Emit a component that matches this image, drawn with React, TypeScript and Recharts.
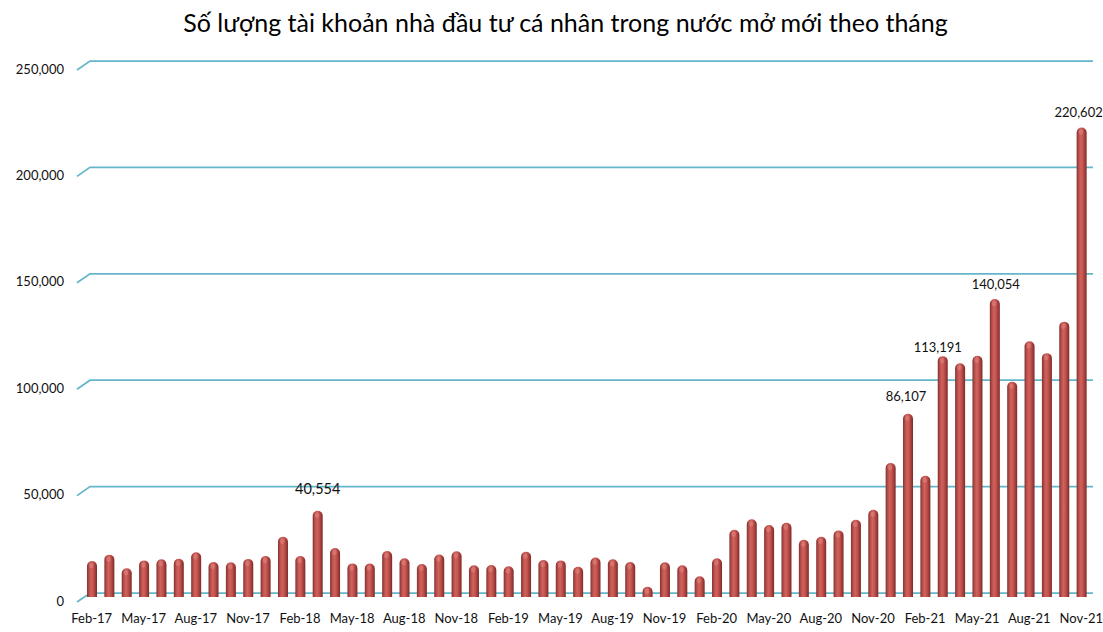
import React from 'react';
import { BarChart, Bar, XAxis, YAxis, CartesianGrid, LabelList } from 'recharts';

// months Feb-17 .. Nov-21
const months = [
  'Feb-17', 'Mar-17', 'Apr-17', 'May-17', 'Jun-17', 'Jul-17', 'Aug-17', 'Sep-17', 'Oct-17', 'Nov-17', 'Dec-17',
  'Jan-18', 'Feb-18', 'Mar-18', 'Apr-18', 'May-18', 'Jun-18', 'Jul-18', 'Aug-18', 'Sep-18', 'Oct-18', 'Nov-18', 'Dec-18',
  'Jan-19', 'Feb-19', 'Mar-19', 'Apr-19', 'May-19', 'Jun-19', 'Jul-19', 'Aug-19', 'Sep-19', 'Oct-19', 'Nov-19', 'Dec-19',
  'Jan-20', 'Feb-20', 'Mar-20', 'Apr-20', 'May-20', 'Jun-20', 'Jul-20', 'Aug-20', 'Sep-20', 'Oct-20', 'Nov-20', 'Dec-20',
  'Jan-21', 'Feb-21', 'Mar-21', 'Apr-21', 'May-21', 'Jun-21', 'Jul-21', 'Aug-21', 'Sep-21', 'Oct-21', 'Nov-21',
];

// new domestic individual accounts per month
const accounts = [
  16900, 19900, 13500, 17200, 17700, 18000, 21000, 16400, 16300, 17900, 19300,
  28300, 19300, 40554, 23000, 15800, 15700, 21600, 18200, 15500, 20000, 21500, 14900,
  15000, 14400, 21300, 17400, 17200, 14200, 18600, 17700, 16400, 4800, 16300, 14900,
  9700, 18200, 31600, 36500, 33800, 34900, 26900, 28300, 31300, 36300, 41000, 63000,
  86107, 57000, 113191, 109800, 113400, 140054, 101100, 120200, 114600, 129400, 220602,
];

const yTicks = [0, 50000, 100000, 150000, 200000, 250000];

const labelledMonths = ['Mar-18', 'Jan-21', 'Mar-21', 'Jun-21', 'Nov-21'];

// label nudges (styling only)
const labelStyle: Record<string, { dx: number; dy: number; size: number }> = {
  'Mar-18': { dx: 0, dy: -17, size: 14.5 },
  'Jan-21': { dx: -2, dy: -13, size: 13 },
  'Mar-21': { dx: -5, dy: -4, size: 13 },
  'Jun-21': { dx: 1, dy: -10, size: 13 },
  'Nov-21': { dx: -3, dy: -11, size: 13 },
};

const data = months.map((m, i) => ({ month: m, value: accounts[i] }));

const FONT = 'Lato, "Open Sans", sans-serif';
const GRID = '#64b6ca';
const DROP = 4; // bars sit slightly in front of the back wall

const Cylinder = (props: any) => {
  const { x, y, width, height } = props;
  if (!height || height <= 0) return null;
  const r = width / 2;
  const top = y + DROP;
  const bottom = y + height + DROP;
  const d = `M${x},${bottom} L${x},${top + r} A${r},${r} 0 0 1 ${x + width},${top + r} L${x + width},${bottom} Z`;
  return (
    <g>
      <path d={d} fill="url(#cyl)" />
      <ellipse cx={x + r * 0.85} cy={top + r * 0.9} rx={r * 0.45} ry={r * 0.55} fill="#e48a86" opacity={0.5} />
    </g>
  );
};

const YTick = (props: any) => {
  const { x, y, payload } = props;
  return (
    <text x={x - 11} y={y + 8} dy="0.35em" textAnchor="end" fontSize={13} fontFamily={FONT} fill="#111">
      {Number(payload.value).toLocaleString('en-US')}
    </text>
  );
};

const XTick = (props: any) => {
  const { x, y, payload } = props;
  return (
    <text x={x} y={y + 22} textAnchor="middle" fontSize={13} fontFamily={FONT} fill="#111">
      {payload.value}
    </text>
  );
};

const renderLabel = (props: any) => {
  const { x, y, width, index, value } = props;
  const m = months[index];
  if (!labelledMonths.includes(m)) return null;
  const s = labelStyle[m];
  return (
    <text
      key={`lbl-${index}`}
      x={x + width / 2 + s.dx}
      y={y + DROP + s.dy}
      textAnchor="middle"
      fontSize={s.size}
      fontFamily={FONT}
      fill="#111"
    >
      {Number(value).toLocaleString('en-US')}
    </text>
  );
};

const gridLine = (p: any) => (
  <path
    key={p.key ?? `g-${p.y1}`}
    d={`M${p.x1 - 6},${p.y1 + 9} L${p.x1 + 7},${p.y1} L${p.x2 + 3},${p.y1}`}
    stroke={GRID}
    strokeWidth={1.75}
    fill="none"
  />
);

export default function App() {
  return (
    <div style={{ position: 'absolute', left: 0, top: 0, width: 1103, height: 632, background: '#fff' }}>
      <div
        style={{
          position: 'absolute',
          left: 14,
          top: 4,
          width: 1103,
          textAlign: 'center',
          fontFamily: FONT,
          fontSize: 25,
          fontWeight: 400,
          color: '#000',
          lineHeight: '36px',
        }}
      >
        Số lượng tài khoản nhà đầu tư cá nhân trong nước mở mới theo tháng
      </div>
      <BarChart
        width={1103}
        height={632}
        data={data}
        margin={{ top: 61, right: 13, bottom: 9, left: 0 }}
        barCategoryGap={0}
      >
        <defs>
          <linearGradient id="cyl" x1="0" y1="0" x2="1" y2="0">
            <stop offset="0%" stopColor="#82302d" />
            <stop offset="22%" stopColor="#b8504c" />
            <stop offset="42%" stopColor="#d0625e" />
            <stop offset="65%" stopColor="#c0504c" />
            <stop offset="100%" stopColor="#7e2a27" />
          </linearGradient>
        </defs>
        <CartesianGrid vertical={false} horizontal={gridLine} />
        <XAxis
          dataKey="month"
          interval={2}
          height={30}
          axisLine={false}
          tickLine={false}
          tick={<XTick />}
        />
        <YAxis
          width={83}
          domain={[0, 250000]}
          ticks={yTicks}
          axisLine={false}
          tickLine={false}
          tick={<YTick />}
        />
        <Bar dataKey="value" barSize={10} shape={<Cylinder />} isAnimationActive={false}>
          <LabelList dataKey="value" content={renderLabel} />
        </Bar>
      </BarChart>
    </div>
  );
}
